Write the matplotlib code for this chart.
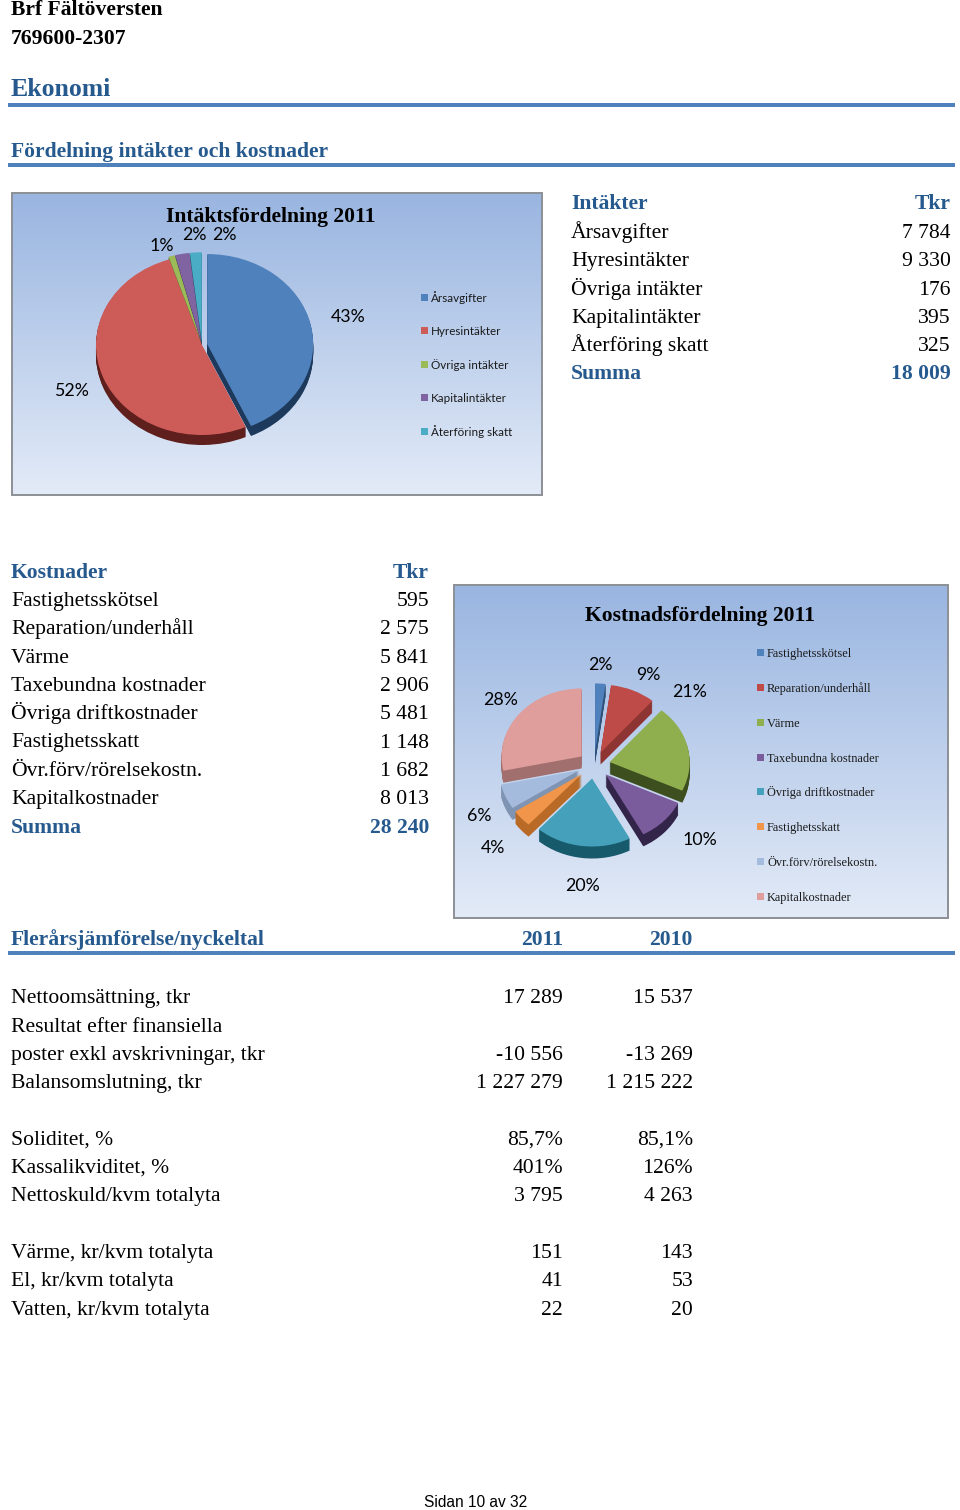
import numpy as np
import matplotlib
matplotlib.use("Agg")
import matplotlib.pyplot as plt
from matplotlib.patches import Rectangle

# Data read from the page
income_names = ["Årsavgifter", "Hyresintäkter", "Övriga intäkter", "Kapitalintäkter", "Återföring skatt"]
income_values = [7784, 9330, 176, 395, 325]
income_text = ["7 784", "9 330", "176", "395", "325"]
income_pct = ["43%", "52%", "1%", "2%", "2%"]
income_sum = "18 009"

cost_names = ["Fastighetsskötsel", "Reparation/underhåll", "Värme", "Taxebundna kostnader",
              "Övriga driftkostnader", "Fastighetsskatt", "Övr.förv/rörelsekostn.", "Kapitalkostnader"]
cost_values = [595, 2575, 5841, 2906, 5481, 1148, 1682, 8013]
cost_text = ["595", "2 575", "5 841", "2 906", "5 481", "1 148", "1 682", "8 013"]
cost_pct = ["2%", "9%", "21%", "10%", "20%", "4%", "6%", "28%"]
cost_sum = "28 240"

key_rows = [
    ("Nettoomsättning, tkr", "17 289", "15 537", 1003),
    ("Resultat efter finansiella", "", "", 1032),
    ("poster exkl avskrivningar, tkr", "-10 556", "-13 269", 1060),
    ("Balansomslutning, tkr", "1 227 279", "1 215 222", 1088),
    ("Soliditet, %", "85,7%", "85,1%", 1145),
    ("Kassalikviditet, %", "401%", "126%", 1173),
    ("Nettoskuld/kvm totalyta", "3 795", "4 263", 1201),
    ("Värme, kr/kvm totalyta", "151", "143", 1258),
    ("El, kr/kvm totalyta", "41", "53", 1286),
    ("Vatten, kr/kvm totalyta", "22", "20", 1315),
]

income_colors = ["#4F81BD", "#CD5B58", "#9BBB59", "#8064A2", "#4BACC6"]
income_dark = ["#1D3A5C", "#5E1F1D", "#3F5220", "#3A2A50", "#1F5566"]
cost_colors = ["#4F81BD", "#BE4B48", "#8FAF4F", "#7A5C9C", "#45A1BB", "#F0954A", "#A5BBDD", "#DF9D9B"]
cost_dark = ["#2F5078", "#8E3533", "#3D4E1F", "#33254A", "#175A6C", "#B86A26", "#7F93B2", "#A06F6E"]

HEAD = "#265A8E"
RULE = "#4F81BD"
W, H = 960, 1510

plt.rcParams["font.family"] = ["Liberation Serif", "DejaVu Sans"]
fig = plt.figure(figsize=(W / 100, H / 100), dpi=100)
page = fig.add_axes([0, 0, 1, 1])
page.set_xlim(0, W)
page.set_ylim(H, 0)
page.axis("off")


def put(x, y, s, size=15.6, color="black", weight="normal", ha="left", **kw):
    page.text(x, y, s, fontsize=size, color=color, fontweight=weight, ha=ha, va="baseline", **kw)


def rule(y, x0=8, x1=955):
    page.add_patch(Rectangle((x0, y - 2), x1 - x0, 4, color=RULE, lw=0))


def panel(x0, y0, x1, y1):
    # gradient background with a gray frame
    grad = np.linspace(0, 1, 256).reshape(-1, 1)
    top = np.array([0.60, 0.71, 0.88])
    bot = np.array([0.89, 0.92, 0.97])
    img = top + (bot - top) * grad[..., None]
    page.imshow(img, extent=(x0, x1, y1, y0), aspect="auto", zorder=1)
    page.add_patch(Rectangle((x0, y0), x1 - x0, y1 - y0, fill=False, ec="#8C9096", lw=1.4, zorder=2))
    page.set_xlim(0, W)
    page.set_ylim(H, 0)


def pie3d(values, colors, dark, explode, cx, cy, rx, ry, depth):
    # extruded pie: dark layers stacked under the top face
    m = 1.4
    ax = fig.add_axes([(cx - rx * m) / W, 1 - (cy + ry * m) / H, 2 * rx * m / W, 2 * ry * m / H], zorder=3)
    for d in np.arange(depth, 0, -1.0):
        ax.pie(values, explode=explode, colors=dark, startangle=90, counterclock=False,
               center=(0, -d / ry), wedgeprops={"lw": 0})
    ax.pie(values, explode=explode, colors=colors, startangle=90, counterclock=False,
           wedgeprops={"lw": 0})
    ax.set_aspect("auto")
    ax.set_xlim(-m, m)
    ax.set_ylim(-m, m)
    ax.patch.set_alpha(0)
    ax.axis("off")


def legend(x, ys, names, colors, family, size):
    for name, color, y in zip(names, colors, ys):
        page.add_patch(Rectangle((x, y - 4), 7, 7, color=color, lw=0, zorder=4))
        page.text(x + 10, y + 4, name, fontsize=size, family=family, color="#1A1A1A", va="baseline", zorder=4)


# Page header
put(11, 15, "Brf Fältöversten", weight="bold")
put(11, 44, "769600-2307", weight="bold")
put(11, 96, "Ekonomi", size=18.5, color=HEAD, weight="bold")
rule(105)
put(11, 157, "Fördelning intäkter och kostnader", size=15.6, color=HEAD, weight="bold")
rule(165)

# Income chart
panel(12, 193, 542, 495)
pie3d(income_values, income_colors, income_dark, [0.05, 0, 0.03, 0.03, 0.03], 202, 345, 106, 90, 10)
put(271, 222, "Intäktsfördelning 2011", size=15.6, weight="bold", ha="center", zorder=5)
income_xy = [(348, 322), (71, 396), (162, 251), (194, 240), (224, 240)]
for pct, (x, y) in zip(income_pct, income_xy):
    page.text(x, y, pct, fontsize=12.8, family="Lato", ha="center", va="baseline", zorder=5)
legend(421, [298, 331, 365, 398, 432], income_names, income_colors, "Lato", 8.4)

# Income table
put(571, 209, "Intäkter", color=HEAD, weight="bold")
put(951, 209, "Tkr", color=HEAD, weight="bold", ha="right")
for i, (name, val) in enumerate(zip(income_names, income_text)):
    y = 238 + i * 28.3
    put(571, y, name)
    put(951, y, val, ha="right")
put(571, 379, "Summa", color=HEAD, weight="bold")
put(951, 379, income_sum, color=HEAD, weight="bold", ha="right")

# Cost table
put(11, 578, "Kostnader", color=HEAD, weight="bold")
put(429, 578, "Tkr", color=HEAD, weight="bold", ha="right")
for i, (name, val) in enumerate(zip(cost_names, cost_text)):
    y = 606 + i * 28.3
    put(11, y, name)
    put(429, y, val, ha="right")
put(11, 833, "Summa", color=HEAD, weight="bold")
put(429, 833, cost_sum, color=HEAD, weight="bold", ha="right")

# Cost chart
panel(454, 585, 948, 918)
pie3d(cost_values, cost_colors, cost_dark, [0.2] * 8, 594, 765, 80, 68, 12)
put(700, 621, "Kostnadsfördelning 2011", size=15.6, weight="bold", ha="center", zorder=5)
cost_xy = [(600, 670), (648, 680), (690, 697), (700, 845), (582, 891), (493, 853), (479, 821), (501, 705)]
for pct, (x, y) in zip(cost_pct, cost_xy):
    page.text(x, y, pct, fontsize=12.8, family="Lato", ha="center", va="baseline", zorder=5)
legend(757, [653, 688, 723, 758, 792, 827, 862, 897], cost_names, cost_colors, "Liberation Serif", 8.95)

# Key figures
put(11, 945, "Flerårsjämförelse/nyckeltal", color=HEAD, weight="bold")
put(563, 945, "2011", color=HEAD, weight="bold", ha="right")
put(693, 945, "2010", color=HEAD, weight="bold", ha="right")
rule(953)
for name, v2011, v2010, y in key_rows:
    put(11, y, name)
    put(563, y, v2011, ha="right")
    put(693, y, v2010, ha="right")

page.text(476, 1507, "Sidan 10 av 32", fontsize=11.2, family="Liberation Sans", ha="center", va="baseline")

fig.savefig("out.png", dpi=100)
